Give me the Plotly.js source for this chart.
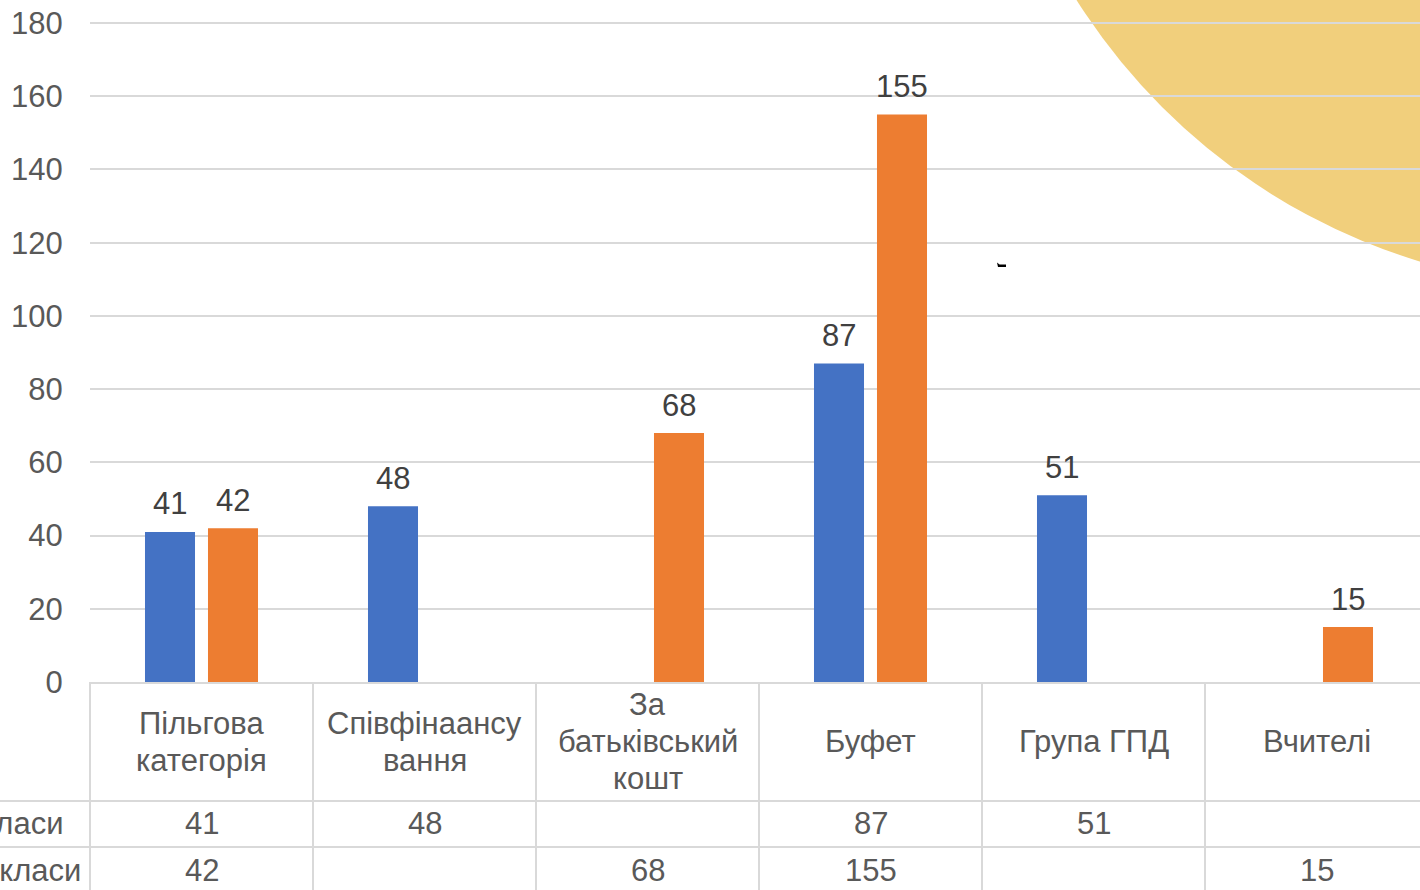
<!DOCTYPE html>
<html>
<head>
<meta charset="utf-8">
<script src="https://cdn.plot.ly/plotly-3.0.1.min.js"></script>
<style>
  html, body { margin: 0; padding: 0; background: #ffffff; overflow: hidden; }
  #chart { width: 1420px; height: 890px; }
</style>
</head>
<body>
<div id="chart"></div>
<script>
// ---- data ----
const categories = ['Пільгова категорія', 'Співфінаансування', 'За батьківський кошт', 'Буфет', 'Група ГПД', 'Вчителі'];
const headerLines = [['Пільгова', 'категорія'], ['Співфінаансу', 'вання'], ['За', 'батьківський', 'кошт'], ['Буфет'], ['Група ГПД'], ['Вчителі']];
const seriesNames = ['1-4 класи', '5-11 класи'];
const juniorValues = [41, 48, null, 87, 51, null];
const seniorValues = [42, null, 68, 155, null, 15];
const yTicks = [0, 20, 40, 60, 80, 100, 120, 140, 160, 180];

// ---- styling / geometry ----
const W = 1420, H = 890;
const M = {l: 90, r: 0, t: 21, b: 208};          // 2px extra on top so the 180 gridline is drawn
const plotW = W - M.l - M.r, plotH = H - M.t - M.b;
const pxPerUnit = 659 / 180;
const yMax = plotH / pxPerUnit;
const colPx = 223;                       // width of one category column
const xr = [-0.5, 5.5 - 8 / colPx];      // table continues slightly past the right edge
const bargap = 0.435, bargroupgap = 0.206;
const barOff = (1 - bargap) / 4;         // centre offset of each bar in a pair
const blue = '#4472C4', orange = '#ED7D31';
const textGrey = '#595959', labelGrey = '#404040', lineGrey = '#D9D9D9';
const FONT = 'Liberation Sans, Arial, sans-serif';

const pxX = p => (p - M.l) / plotW;            // pixel -> paper x
const pxY = p => (M.t + plotH - p) / plotH;    // pixel -> paper y
const dataXtoPaper = v => (v - xr[0]) / (xr[1] - xr[0]);

const traces = [
  {type: 'bar', name: seriesNames[0], x: categories, y: juniorValues, marker: {color: blue}},
  {type: 'bar', name: seriesNames[1], x: categories, y: seniorValues, marker: {color: orange}}
];

const annotations = [];
const shapes = [];

// decorative yellow circle in the corner (behind the grid)
shapes.push({type: 'circle', xref: 'paper', yref: 'paper', layer: 'below',
  x0: pxX(981), x1: pxX(2217), y0: pxY(288), y1: pxY(-948),
  fillcolor: '#F1CF7C', line: {width: 0}});
// small stray mark
shapes.push({type: 'path', xref: 'paper', yref: 'paper', layer: 'above',
  path: `M ${pxX(997)} ${pxY(262.5)} L ${pxX(999.5)} ${pxY(264.5)} L ${pxX(1006)} ${pxY(264.5)} L ${pxX(1006)} ${pxY(267)} L ${pxX(998)} ${pxY(267)} Z`,
  fillcolor: '#000000', line: {width: 0}});

// data labels above bars
[juniorValues, seniorValues].forEach((vals, s) => {
  vals.forEach((v, i) => {
    if (v === null) return;
    annotations.push({xref: 'x', yref: 'y', x: i + (s === 0 ? -barOff : barOff), y: v,
      yshift: 28, yanchor: 'middle', xanchor: 'center', showarrow: false,
      text: String(v), font: {family: FONT, size: 31, color: labelGrey}});
  });
});

// ---- data table ----
const headerTop = 682, headerBot = 801, row1Bot = 847, tableBot = 900;
const headerMid = (headerTop + headerBot) / 2;
const lineStep = 37;
headerLines.forEach((lines, i) => {
  lines.forEach((ln, j) => {
    const py = headerMid + (j - (lines.length - 1) / 2) * lineStep;
    annotations.push({xref: 'x', yref: 'paper', x: i, y: pxY(py), yanchor: 'middle', xanchor: 'center',
      showarrow: false, text: ln, font: {family: FONT, size: 31, color: textGrey}});
  });
});
const rowMids = [(headerBot + row1Bot) / 2, (row1Bot + tableBot) / 2 - 3];
const rowEnds = [65, 83];
[juniorValues, seniorValues].forEach((vals, s) => {
  annotations.push({xref: 'paper', yref: 'paper', x: pxX(rowEnds[s]), y: pxY(rowMids[s]),
    xanchor: 'right', yanchor: 'middle', showarrow: false, text: seriesNames[s],
    font: {family: FONT, size: 31, color: textGrey}});
  vals.forEach((v, i) => {
    if (v === null) return;
    annotations.push({xref: 'x', yref: 'paper', x: i, y: pxY(rowMids[s]), yanchor: 'middle', xanchor: 'center',
      showarrow: false, text: String(v), font: {family: FONT, size: 31, color: textGrey}});
  });
});
// table lines
[headerBot, row1Bot].forEach(py => {
  shapes.push({type: 'line', xref: 'paper', yref: 'paper', x0: pxX(0), x1: 1, y0: pxY(py), y1: pxY(py),
    line: {color: lineGrey, width: 2}});
});
for (let k = 0; k <= categories.length; k++) {
  const xp = dataXtoPaper(k - 0.5);
  if (xp > 1.001) continue;
  shapes.push({type: 'line', xref: 'paper', yref: 'paper', x0: xp, x1: xp, y0: pxY(headerTop), y1: pxY(tableBot),
    line: {color: lineGrey, width: 2}});
}

const layout = {
  width: W, height: H, margin: M,
  paper_bgcolor: 'rgba(0,0,0,0)', plot_bgcolor: 'rgba(0,0,0,0)',
  barmode: 'group', bargap: bargap, bargroupgap: bargroupgap,
  showlegend: false,
  font: {family: FONT, color: textGrey},
  xaxis: {type: 'category', range: xr, showticklabels: false, ticks: '', showgrid: false,
    zeroline: false, showline: true, linecolor: lineGrey, linewidth: 2, fixedrange: true},
  yaxis: {range: [0, yMax], tickvals: yTicks, ticktext: yTicks.map(String), showgrid: true, gridcolor: lineGrey, gridwidth: 2,
    zeroline: false, showline: false, ticks: 'outside', ticklen: 20, tickcolor: 'rgba(0,0,0,0)',
    tickfont: {family: FONT, size: 31, color: textGrey}, fixedrange: true},
  shapes: shapes,
  annotations: annotations
};

Plotly.newPlot('chart', traces, layout, {staticPlot: true, displayModeBar: false});
</script>
</body>
</html>
